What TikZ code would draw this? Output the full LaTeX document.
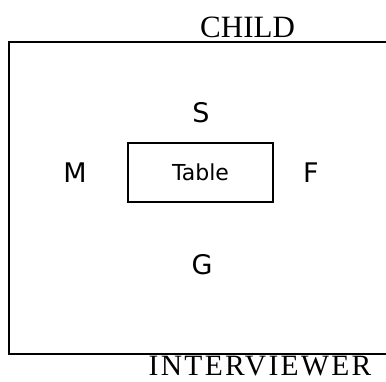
\documentclass[tikz,border=0pt]{standalone}
\usepackage{fontspec}
\setmainfont{Liberation Serif}
\newfontfamily\seatfont{DejaVu Sans}
\usetikzlibrary{positioning}

\begin{document}
\begin{tikzpicture}[x=1pt, y=-1pt,
    seat/.style={inner sep=0pt, anchor=base, font=\seatfont\fontsize{27}{27}\selectfont},
    side/.style={inner sep=0pt, anchor=base west, font=\fontsize{31}{31}\selectfont}]
    \useasboundingbox (0,0) rectangle (386,381);

    % room
    \coordinate (room_ne) at (386,42);
    \coordinate (room_nw) at (9,42);
    \coordinate (room_sw) at (9,354);
    \coordinate (room_se) at (386,354);
    \draw[line width=2.2pt] (room_ne) -- (room_nw) -- (room_sw) -- (room_se);

    \node[side] (child) at (200,37) {CHILD};
    \node[side, anchor=base, font=\fontsize{29.5}{29.5}\selectfont\addfontfeature{LetterSpace=8}] (interviewer) at (260,375.5) {INTERVIEWER};

    \node[draw, line width=2pt, minimum width=145pt, minimum height=59pt,
          font=\seatfont\fontsize{22}{22}\selectfont] (table) at (200.5,172.5) {Table};

    % seats
    \node[seat] (seat_s) at (201,122) {S};
    \node[seat] (seat_m) at (75,182) {M};
    \node[seat] (seat_f) at (311,182) {F};
    \node[seat] (seat_g) at (202,274) {G};
\end{tikzpicture}
\end{document}
